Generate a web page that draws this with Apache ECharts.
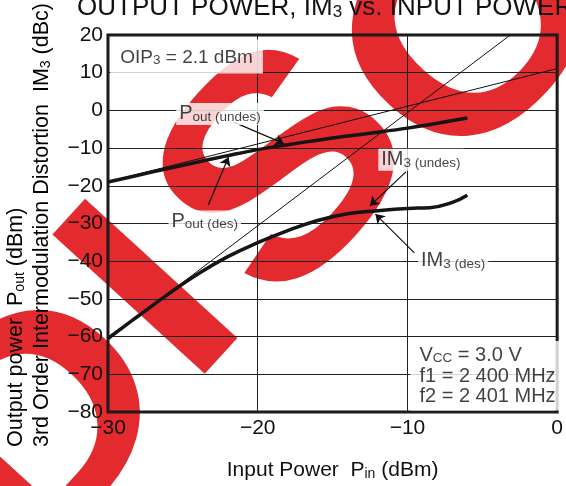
<!DOCTYPE html>
<html>
<head>
<meta charset="utf-8">
<script src="https://cdn.jsdelivr.net/npm/echarts@6/dist/echarts.min.js"></script>
<style>
  html, body { margin: 0; padding: 0; background: #fff; }
  #chart { width: 566px; height: 486px; }
</style>
</head>
<body>
<div id="chart"></div>
<script>
// input power (dBm) and measured curves
const pinPout = [-30, -28, -26, -24, -22, -20, -18, -16, -14, -12, -10, -8, -6];
const poutDes = [-19, -17.2, -15.4, -13.7, -12.0, -10.4, -9.1, -7.9, -6.8, -5.8, -4.7, -3.4, -2.0];
const pinIm3 = [-30, -28, -26, -24, -22, -20, -18, -16, -14, -12, -10, -8.5, -7, -6];
const im3Des = [-60.5, -54.6, -48.8, -43.4, -38.8, -35.1, -31.9, -29.2, -27.4, -26.6, -26.0, -25.8, -24.4, -22.5];

// extrapolated straight lines (fundamental slope 1, IM3 slope 3)
const poutLine = [[-30, -18.9], [0, 11.1]];
const im3Line = [[-30, -60.6], [-3.13, 20]];

// axis ticks
const xTicks = { min: -30, max: 0, step: 10 };
const yTicks = { min: -80, max: 20, step: 10 };

// annotation arrows [from, to] in data units
const arrows = [
  [[-21.6, -3.1], [-18.25, -8.8]],
  [[-23.3, -25.1], [-21.95, -12.35]],
  [[-10.1, -16.3], [-12.5, -25.3]],
  [[-9.54, -37.8], [-12.14, -27.5]]
];

// annotation labels [x, y, text]
const notes = [
  [-22.52, -0.93, '{b|P}{s|out (undes)}'],
  [-23.54, -29.5, '{b|P}{s|out (des)}'],
  [-9.1, -13.1, '{b|IM}{s|3 (undes)}'],
  [-6.95, -39.9, '{b|IM}{s|3 (des)}']
];
const oipNote = [-29.85, 14.3, '{c|OIP}{s|3}{c| = 2.1 dBm}'];
const condNote = [-9.8, -70.4, '{b|V}{s|CC}{b| = 3.0 V}\n{b|f1 = 2 400 MHz}\n{b|f2 = 2 401 MHz}'];

const FONT = 'Liberation Sans, Arial, Helvetica, sans-serif';
const minus = v => String(v).replace('-', '\u2212');

const richBase = {
  b: { fontSize: 20, color: '#111', fontFamily: FONT, verticalAlign: 'bottom' },
  c: { fontSize: 19, color: '#111', fontFamily: FONT, verticalAlign: 'bottom' },
  s: { fontSize: 13.5, color: '#111', fontFamily: FONT, verticalAlign: 'bottom' }
};
const richName = {
  b: { fontSize: 21.5, color: '#111', fontFamily: FONT, verticalAlign: 'bottom' },
  s: { fontSize: 14, color: '#111', fontFamily: FONT, verticalAlign: 'bottom' }
};

const chart = echarts.init(document.getElementById('chart'), null, { renderer: 'canvas' });

// watermark letters (character, centre x, centre y)
const wmLetters = [['D', 48, 432], ['I', 160, 300], ['S', 292, 178], ['C', 478, 40]];

const option = {
  animation: false,
  backgroundColor: '#fff',
  textStyle: { fontFamily: FONT },
  title: {
    text: '{t|OUTPUT POWER, IM}{u|3}{t| vs. INPUT POWER}',
    left: 77,
    top: -5,
    padding: 0,
    textStyle: {
      fontWeight: 'normal',
      rich: {
        t: { fontSize: 26, color: '#111', fontFamily: FONT, fontWeight: 'normal', verticalAlign: 'bottom' },
        u: { fontSize: 17, color: '#111', fontFamily: FONT, fontWeight: 'normal', verticalAlign: 'bottom' }
      }
    }
  },
  grid: {
    left: 108, right: 5, top: 35, bottom: 73,
    show: true, borderColor: '#151515', borderWidth: 3, backgroundColor: 'transparent'
  },
  xAxis: {
    type: 'value',
    min: xTicks.min, max: xTicks.max, interval: xTicks.step,
    axisLine: { show: false },
    axisTick: { show: false },
    splitLine: { show: true, lineStyle: { color: '#222', width: 1 } },
    axisLabel: { fontSize: 21, color: '#111', margin: 6, formatter: minus },
    name: '{b|Input Power  P}{s|in}{b| (dBm)}',
    nameLocation: 'middle',
    nameGap: 48,
    nameTextStyle: {
      rich: {
        b: { fontSize: 21, color: '#111', fontFamily: FONT, verticalAlign: 'bottom' },
        s: { fontSize: 14, color: '#111', fontFamily: FONT, verticalAlign: 'bottom' }
      }
    }
  },
  yAxis: {
    type: 'value',
    min: yTicks.min, max: yTicks.max, interval: yTicks.step,
    axisLine: { show: false },
    axisTick: { show: false },
    splitLine: { show: true, lineStyle: { color: '#222', width: 1 } },
    axisLabel: { fontSize: 21, color: '#111', margin: 5, formatter: minus }
  },
  graphic: [
    ...wmLetters.map(([ch, x, y]) => ({
      type: 'text', x: x, y: y, rotation: 0.83, scaleX: 1.12, z: -10, silent: true,
      style: {
        text: ch, fill: '#e32a2f',
        font: 'bold 300px ' + FONT,
        align: 'center', verticalAlign: 'middle',
        textAlign: 'center', textVerticalAlign: 'middle'
      }
    })),
    {
      type: 'text', x: 16.5, y: 447, rotation: Math.PI / 2, z: 50,
      style: {
        text: '{b|Output power  P}{s|out}{b| (dBm)}',
        rich: richName,
        align: 'left', verticalAlign: 'middle',
        textAlign: 'left', textVerticalAlign: 'middle'
      }
    },
    {
      type: 'text', x: 42, y: 447, rotation: Math.PI / 2, z: 50,
      style: {
        text: '{b|3rd Order Intermodulation Distortion  IM}{s|3}{b| (dBc)}',
        rich: richName,
        align: 'left', verticalAlign: 'middle',
        textAlign: 'left', textVerticalAlign: 'middle'
      }
    }
  ],
  series: [
    {
      name: 'Pout extrapolated', type: 'line', data: poutLine,
      showSymbol: false, lineStyle: { color: '#111', width: 1 }, z: 3
    },
    {
      name: 'IM3 extrapolated', type: 'line', data: im3Line,
      showSymbol: false, lineStyle: { color: '#111', width: 1 }, z: 3
    },
    {
      name: 'Pout', type: 'line', smooth: 0.4,
      data: pinPout.map((x, i) => [x, poutDes[i]]),
      showSymbol: false, lineStyle: { color: '#151515', width: 3.5 }, z: 4
    },
    {
      name: 'IM3', type: 'line', smooth: 0.45,
      data: pinIm3.map((x, i) => [x, im3Des[i]]),
      showSymbol: false, lineStyle: { color: '#151515', width: 3.5 }, z: 4
    },
    {
      name: 'arrows', type: 'lines', coordinateSystem: 'cartesian2d',
      symbol: ['none', 'arrow'], symbolSize: 9,
      lineStyle: { color: '#111', width: 1.2, opacity: 1 },
      data: arrows.map(a => ({ coords: a })), z: 6
    },
    {
      name: 'notes', type: 'scatter', symbolSize: 0, z: 8,
      data: notes.map(n => [n[0], n[1], n[2]]),
      label: {
        show: true, position: 'inside',
        formatter: p => p.data[2],
        backgroundColor: '#fff', padding: [1, 3, 1, 3],
        rich: richBase
      }
    },
    {
      name: 'oip', type: 'scatter', symbolSize: 0, z: 8,
      data: [oipNote],
      label: {
        show: true, position: 'right', distance: 0,
        formatter: p => p.data[2],
        backgroundColor: '#fff', padding: [9, 10, 6, 10],
        rich: richBase
      }
    },
    {
      name: 'conditions', type: 'scatter', symbolSize: 0, z: 8,
      data: [condNote],
      label: {
        show: true, position: 'right', distance: 0,
        formatter: p => p.data[2],
        backgroundColor: '#fff', padding: [4, 8, 4, 9],
        lineHeight: 20.5,
        rich: {
          b: Object.assign({}, richBase.b, { lineHeight: 20.5 }),
          s: Object.assign({}, richBase.s, { lineHeight: 20.5 })
        }
      }
    }
  ]
};

chart.setOption(option);
</script>
</body>
</html>
